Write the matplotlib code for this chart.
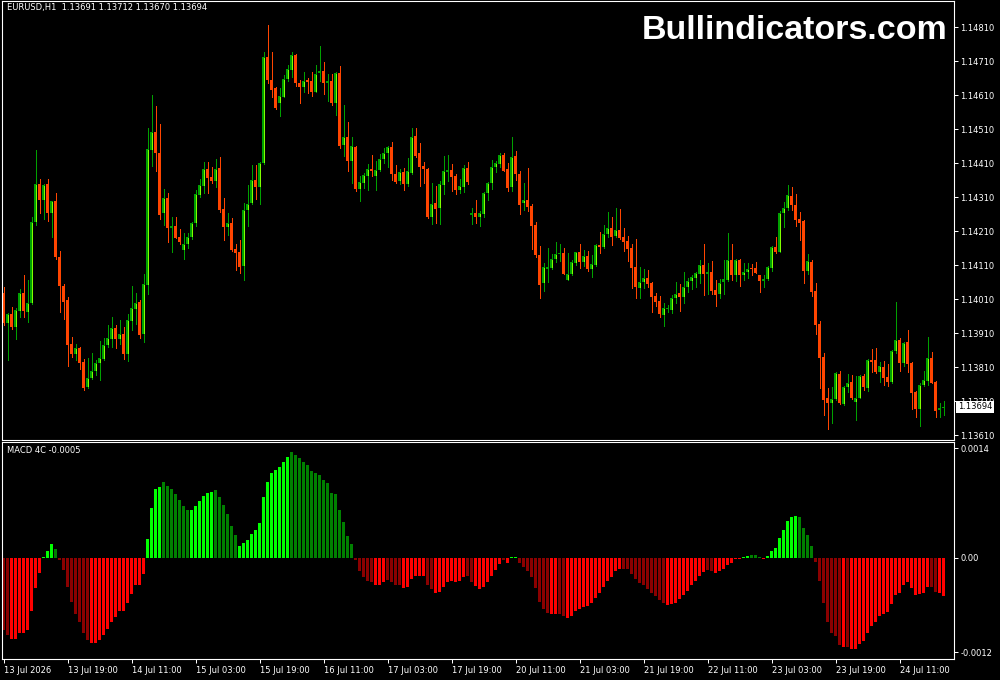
import matplotlib
matplotlib.use("Agg")
import matplotlib.pyplot as plt
import numpy as np
from matplotlib.transforms import blended_transform_factory

symbol = "EURUSD,H1"
indicator_name = "MACD 4C"
watermark = "Bullindicators.com"

opens = [
    1.14030, 1.13941, 1.13967, 1.13929, 1.13976, 1.14028, 1.13973, 1.13998, 1.14236, 1.14349,
    1.14302, 1.14349, 1.14263, 1.14299, 1.14134, 1.14050, 1.14008, 1.13878, 1.13849, 1.13867,
    1.13826, 1.13751, 1.13780, 1.13798, 1.13823, 1.13833, 1.13877, 1.13893, 1.13925, 1.13893,
    1.13908, 1.13849, 1.13947, 1.13981, 1.14002, 1.13908, 1.14052, 1.14449, 1.14503, 1.14441,
    1.14263, 1.14307, 1.14220, 1.14225, 1.14192, 1.14155, 1.14172, 1.14194, 1.14233, 1.14317,
    1.14344, 1.14392, 1.14369, 1.14358, 1.14396, 1.14277, 1.14223, 1.14235, 1.14157, 1.14149,
    1.14109, 1.14272, 1.14292, 1.14361, 1.14341, 1.14410, 1.14722, 1.14655, 1.14632, 1.14588,
    1.14606, 1.14657, 1.14684, 1.14728, 1.14647, 1.14635, 1.14655, 1.14652, 1.14620, 1.14676,
    1.14681, 1.14647, 1.14653, 1.14586, 1.14676, 1.14464, 1.14486, 1.14417, 1.14459, 1.14334,
    1.14353, 1.14373, 1.14392, 1.14373, 1.14390, 1.14422, 1.14439, 1.14459, 1.14380, 1.14359,
    1.14383, 1.14349, 1.14382, 1.14490, 1.14441, 1.14403, 1.14393, 1.14253, 1.14292, 1.14280,
    1.14346, 1.14385, 1.14390, 1.14372, 1.14331, 1.14339, 1.14397, 1.14257, 1.14263, 1.14253,
    1.14261, 1.14323, 1.14351, 1.14400, 1.14407, 1.14434, 1.14392, 1.14341, 1.14431, 1.14378,
    1.14292, 1.14302, 1.14284, 1.14228, 1.14140, 1.14057, 1.14099, 1.14101, 1.14128, 1.14142,
    1.14145, 1.14067, 1.14083, 1.14117, 1.14148, 1.14120, 1.14137, 1.14099, 1.14111, 1.14170,
    1.14163, 1.14202, 1.14219, 1.14197, 1.14214, 1.14194, 1.14182, 1.14162, 1.14106, 1.14042,
    1.14062, 1.14072, 1.14059, 1.14020, 1.14005, 1.13964, 1.13981, 1.13980, 1.14013, 1.14030,
    1.14017, 1.14045, 1.14064, 1.14073, 1.14083, 1.14111, 1.14083, 1.14089, 1.14037, 1.14025,
    1.14062, 1.14067, 1.14127, 1.14081, 1.14125, 1.14081, 1.14089, 1.14101, 1.14103, 1.14081,
    1.14065, 1.14069, 1.14103, 1.14163, 1.14150, 1.14265, 1.14280, 1.14314, 1.14287, 1.14246,
    1.14240, 1.14094, 1.14120, 1.14034, 1.13937, 1.13841, 1.13719, 1.13704, 1.13716, 1.13790,
    1.13702, 1.13753, 1.13767, 1.13709, 1.13720, 1.13785, 1.13750, 1.13831, 1.13831, 1.13797,
    1.13812, 1.13782, 1.13766, 1.13858, 1.13890, 1.13823, 1.13885, 1.13823, 1.13738, 1.13686,
    1.13758, 1.13770, 1.13836, 1.13767, 1.13684, 1.13691,
]

highs = [
    1.14047, 1.13969, 1.13988, 1.13983, 1.14039, 1.14081, 1.14067, 1.14251, 1.14449, 1.14363,
    1.14350, 1.14363, 1.14299, 1.14322, 1.14152, 1.14055, 1.14016, 1.13899, 1.13878, 1.13870,
    1.13833, 1.13836, 1.13851, 1.13831, 1.13888, 1.13895, 1.13934, 1.13959, 1.13934, 1.13949,
    1.13929, 1.13967, 1.14049, 1.14029, 1.14008, 1.14084, 1.14514, 1.14611, 1.14578, 1.14525,
    1.14334, 1.14324, 1.14253, 1.14253, 1.14217, 1.14204, 1.14204, 1.14238, 1.14331, 1.14364,
    1.14413, 1.14413, 1.14400, 1.14422, 1.14428, 1.14307, 1.14263, 1.14248, 1.14172, 1.14184,
    1.14292, 1.14346, 1.14405, 1.14405, 1.14414, 1.14736, 1.14817, 1.14736, 1.14635, 1.14630,
    1.14669, 1.14699, 1.14736, 1.14731, 1.14655, 1.14679, 1.14660, 1.14679, 1.14699, 1.14755,
    1.14709, 1.14674, 1.14674, 1.14679, 1.14696, 1.14581, 1.14532, 1.14486, 1.14461, 1.14373,
    1.14382, 1.14408, 1.14434, 1.14417, 1.14437, 1.14456, 1.14461, 1.14473, 1.14405, 1.14392,
    1.14397, 1.14426, 1.14513, 1.14513, 1.14470, 1.14414, 1.14396, 1.14353, 1.14344, 1.14359,
    1.14432, 1.14434, 1.14408, 1.14378, 1.14363, 1.14405, 1.14414, 1.14279, 1.14302, 1.14270,
    1.14326, 1.14356, 1.14419, 1.14417, 1.14439, 1.14439, 1.14410, 1.14486, 1.14446, 1.14387,
    1.14351, 1.14395, 1.14290, 1.14238, 1.14167, 1.14116, 1.14160, 1.14143, 1.14178, 1.14172,
    1.14160, 1.14145, 1.14125, 1.14150, 1.14172, 1.14155, 1.14152, 1.14140, 1.14172, 1.14208,
    1.14228, 1.14267, 1.14253, 1.14279, 1.14275, 1.14219, 1.14196, 1.14172, 1.14187, 1.14106,
    1.14098, 1.14096, 1.14062, 1.14030, 1.14020, 1.14000, 1.13993, 1.14022, 1.14060, 1.14055,
    1.14089, 1.14072, 1.14081, 1.14091, 1.14127, 1.14172, 1.14116, 1.14122, 1.14067, 1.14069,
    1.14127, 1.14206, 1.14174, 1.14130, 1.14130, 1.14116, 1.14116, 1.14114, 1.14119, 1.14081,
    1.14081, 1.14109, 1.14167, 1.14194, 1.14270, 1.14295, 1.14346, 1.14341, 1.14319, 1.14267,
    1.14243, 1.14143, 1.14125, 1.14057, 1.13947, 1.13853, 1.13748, 1.13753, 1.13795, 1.13799,
    1.13755, 1.13790, 1.13787, 1.13784, 1.13786, 1.13790, 1.13833, 1.13864, 1.13866, 1.13826,
    1.13828, 1.13819, 1.13861, 1.14002, 1.13897, 1.13885, 1.13920, 1.13826, 1.13741, 1.13763,
    1.13799, 1.13900, 1.13856, 1.13770, 1.13704, 1.13712,
]

lows = [
    1.13934, 1.13831, 1.13922, 1.13893, 1.13959, 1.13959, 1.13944, 1.13996, 1.14228, 1.14263,
    1.14246, 1.14241, 1.14194, 1.14130, 1.13973, 1.13952, 1.13814, 1.13841, 1.13831, 1.13804,
    1.13743, 1.13749, 1.13777, 1.13787, 1.13772, 1.13831, 1.13870, 1.13870, 1.13866, 1.13880,
    1.13833, 1.13828, 1.13920, 1.13937, 1.13895, 1.13884, 1.14027, 1.14402, 1.14387, 1.14246,
    1.14228, 1.14179, 1.14150, 1.14189, 1.14172, 1.14130, 1.14160, 1.14186, 1.14225, 1.14312,
    1.14322, 1.14322, 1.14351, 1.14339, 1.14267, 1.14184, 1.14199, 1.14152, 1.14096, 1.14088,
    1.14067, 1.14225, 1.14290, 1.14305, 1.14290, 1.14408, 1.14647, 1.14604, 1.14571, 1.14549,
    1.14604, 1.14652, 1.14663, 1.14638, 1.14588, 1.14620, 1.14617, 1.14608, 1.14619, 1.14653,
    1.14614, 1.14594, 1.14581, 1.14552, 1.14454, 1.14431, 1.14388, 1.14353, 1.14329, 1.14300,
    1.14336, 1.14331, 1.14373, 1.14331, 1.14388, 1.14412, 1.14400, 1.14361, 1.14353, 1.14349,
    1.14331, 1.14344, 1.14380, 1.14429, 1.14344, 1.14351, 1.14248, 1.14231, 1.14235, 1.14231,
    1.14319, 1.14359, 1.14328, 1.14319, 1.14323, 1.14326, 1.14349, 1.14231, 1.14233, 1.14225,
    1.14251, 1.14302, 1.14333, 1.14385, 1.14400, 1.14388, 1.14328, 1.14328, 1.14361, 1.14261,
    1.14272, 1.14270, 1.14158, 1.14135, 1.14015, 1.14035, 1.14062, 1.14099, 1.14119, 1.14123,
    1.14084, 1.14067, 1.14081, 1.14111, 1.14103, 1.14108, 1.14094, 1.14076, 1.14109, 1.14147,
    1.14160, 1.14194, 1.14170, 1.14192, 1.14186, 1.14152, 1.14123, 1.14044, 1.14015, 1.14015,
    1.14042, 1.14047, 1.13973, 1.13990, 1.13959, 1.13932, 1.13973, 1.13969, 1.14000, 1.13976,
    1.14000, 1.14032, 1.14039, 1.14047, 1.14059, 1.14022, 1.14025, 1.14027, 1.13990, 1.14015,
    1.14025, 1.14064, 1.14067, 1.14065, 1.14049, 1.14067, 1.14072, 1.14081, 1.14086, 1.14032,
    1.14047, 1.14067, 1.14094, 1.14147, 1.14150, 1.14222, 1.14272, 1.14272, 1.14225, 1.14184,
    1.14057, 1.14084, 1.14020, 1.13908, 1.13748, 1.13670, 1.13630, 1.13645, 1.13714, 1.13702,
    1.13699, 1.13738, 1.13717, 1.13655, 1.13719, 1.13743, 1.13741, 1.13797, 1.13794, 1.13767,
    1.13758, 1.13755, 1.13763, 1.13851, 1.13799, 1.13814, 1.13797, 1.13686, 1.13663, 1.13637,
    1.13755, 1.13758, 1.13763, 1.13665, 1.13663, 1.13670,
]

closes = [
    1.13939, 1.13967, 1.13929, 1.13978, 1.14028, 1.13976, 1.13998, 1.14236, 1.14349, 1.14302,
    1.14345, 1.14264, 1.14299, 1.14133, 1.14050, 1.14002, 1.13875, 1.13849, 1.13867, 1.13823,
    1.13749, 1.13780, 1.13798, 1.13822, 1.13837, 1.13877, 1.13895, 1.13925, 1.13893, 1.13908,
    1.13849, 1.13949, 1.13984, 1.13999, 1.13905, 1.14055, 1.14452, 1.14503, 1.14441, 1.14258,
    1.14307, 1.14220, 1.14225, 1.14191, 1.14179, 1.14172, 1.14192, 1.14235, 1.14319, 1.14346,
    1.14392, 1.14367, 1.14358, 1.14392, 1.14274, 1.14223, 1.14233, 1.14155, 1.14147, 1.14106,
    1.14274, 1.14289, 1.14361, 1.14341, 1.14410, 1.14722, 1.14655, 1.14625, 1.14574, 1.14608,
    1.14657, 1.14686, 1.14728, 1.14647, 1.14635, 1.14653, 1.14650, 1.14620, 1.14674, 1.14681,
    1.14647, 1.14653, 1.14586, 1.14676, 1.14461, 1.14486, 1.14417, 1.14461, 1.14334, 1.14354,
    1.14375, 1.14392, 1.14387, 1.14390, 1.14422, 1.14439, 1.14457, 1.14378, 1.14356, 1.14383,
    1.14349, 1.14387, 1.14488, 1.14432, 1.14398, 1.14393, 1.14253, 1.14290, 1.14277, 1.14349,
    1.14387, 1.14390, 1.14370, 1.14331, 1.14343, 1.14395, 1.14354, 1.14263, 1.14253, 1.14263,
    1.14324, 1.14353, 1.14400, 1.14410, 1.14434, 1.14388, 1.14338, 1.14429, 1.14378, 1.14287,
    1.14302, 1.14282, 1.14225, 1.14140, 1.14052, 1.14104, 1.14104, 1.14130, 1.14143, 1.14145,
    1.14084, 1.14084, 1.14120, 1.14148, 1.14119, 1.14137, 1.14099, 1.14114, 1.14170, 1.14163,
    1.14202, 1.14219, 1.14194, 1.14214, 1.14189, 1.14179, 1.14158, 1.14103, 1.14047, 1.14062,
    1.14072, 1.14055, 1.14017, 1.14003, 1.13967, 1.13983, 1.13982, 1.14013, 1.14027, 1.14017,
    1.14045, 1.14064, 1.14075, 1.14086, 1.14111, 1.14083, 1.14089, 1.14035, 1.14024, 1.14057,
    1.14069, 1.14125, 1.14081, 1.14127, 1.14081, 1.14089, 1.14099, 1.14098, 1.14088, 1.14065,
    1.14070, 1.14106, 1.14165, 1.14150, 1.14265, 1.14280, 1.14317, 1.14287, 1.14243, 1.14235,
    1.14094, 1.14122, 1.14032, 1.13934, 1.13838, 1.13714, 1.13704, 1.13717, 1.13792, 1.13704,
    1.13753, 1.13763, 1.13720, 1.13719, 1.13784, 1.13753, 1.13831, 1.13825, 1.13797, 1.13814,
    1.13780, 1.13766, 1.13858, 1.13890, 1.13823, 1.13882, 1.13819, 1.13735, 1.13686, 1.13758,
    1.13772, 1.13836, 1.13765, 1.13682, 1.13691, 1.13694,
]

macd = [
    -0.00092, -0.00098, -0.00103, -0.00103, -0.00096, -0.00095, -0.00092, -0.00068, -0.00038, -0.00019,
    0.00001, 0.00009, 0.00018, 0.00011, -0.00002, -0.00015, -0.00037, -0.00056, -0.00071, -0.00081,
    -0.00095, -0.00105, -0.00108, -0.00108, -0.00105, -0.00098, -0.00091, -0.00081, -0.00075, -0.00068,
    -0.00067, -0.00058, -0.00046, -0.00035, -0.00034, -0.00020, 0.00024, 0.00064, 0.00088, 0.00091,
    0.00097, 0.00092, 0.00088, 0.00082, 0.00074, 0.00066, 0.00061, 0.00061, 0.00066, 0.00073,
    0.00079, 0.00083, 0.00084, 0.00087, 0.00078, 0.00067, 0.00056, 0.00041, 0.00029, 0.00015,
    0.00019, 0.00023, 0.00031, 0.00036, 0.00045, 0.00078, 0.00097, 0.00108, 0.00112, 0.00116,
    0.00122, 0.00129, 0.00135, 0.00131, 0.00127, 0.00123, 0.00119, 0.00111, 0.00109, 0.00106,
    0.00100, 0.00095, 0.00083, 0.00082, 0.00061, 0.00046, 0.00028, 0.00018, -0.00003, -0.00016,
    -0.00024, -0.00029, -0.00031, -0.00035, -0.00034, -0.00031, -0.00028, -0.00030, -0.00035, -0.00035,
    -0.00038, -0.00037, -0.00027, -0.00023, -0.00023, -0.00023, -0.00034, -0.00040, -0.00045, -0.00043,
    -0.00037, -0.00031, -0.00029, -0.00030, -0.00029, -0.00024, -0.00023, -0.00030, -0.00036, -0.00039,
    -0.00037, -0.00031, -0.00023, -0.00015, -0.00008, -0.00003, -0.00006, 0.00001, 0.00001, -0.00006,
    -0.00012, -0.00017, -0.00024, -0.00038, -0.00056, -0.00065, -0.00070, -0.00072, -0.00072, -0.00072,
    -0.00074, -0.00076, -0.00074, -0.00068, -0.00065, -0.00062, -0.00061, -0.00058, -0.00051, -0.00045,
    -0.00037, -0.00029, -0.00024, -0.00017, -0.00014, -0.00014, -0.00014, -0.00020, -0.00027, -0.00032,
    -0.00035, -0.00040, -0.00045, -0.00048, -0.00054, -0.00058, -0.00060, -0.00059, -0.00057, -0.00052,
    -0.00047, -0.00042, -0.00035, -0.00029, -0.00023, -0.00018, -0.00015, -0.00017, -0.00019, -0.00017,
    -0.00014, -0.00009, -0.00007, -0.00001, -0.00001, 0.00001, 0.00003, 0.00004, 0.00004, 0.00001,
    -0.00001, 0.00003, 0.00009, 0.00013, 0.00026, 0.00036, 0.00047, 0.00052, 0.00054, 0.00052,
    0.00038, 0.00029, 0.00015, -0.00005, -0.00029, -0.00057, -0.00081, -0.00095, -0.00100, -0.00111,
    -0.00114, -0.00113, -0.00116, -0.00116, -0.00110, -0.00106, -0.00095, -0.00087, -0.00081, -0.00074,
    -0.00071, -0.00069, -0.00059, -0.00047, -0.00044, -0.00035, -0.00031, -0.00038, -0.00047, -0.00046,
    -0.00044, -0.00037, -0.00037, -0.00043, -0.00045, -0.00048,
]

# 4-colour state per histogram bar: G up/positive, g down/positive, R red, r dark red
macd_state = (
    "rrRRRRRRRR" "GGGgrrrrrr" "rrRRRRRRRR" "RRRRRRGGGG" "gggggggGGG"
    "GGGggggggG" "GGGGGGGGGG" "GGgggggggg" "ggggggggrr" "rrrRRRrrrr"
    "RRRRRRrrRR" "RRRRRRrrRR" "RRRRRrRGGr" "rrrrrrrRRr" "rRRRRRRRRR"
    "RRRRRrrrrr" "rrrrrrRRRR" "RRRRRRrrRR" "RRRRRGGggg" "RGGGGGGGGg"
    "gggrrrrrrr" "RrRRRRRRRR" "RRRRRRRRRR" "RRrrRR"
)

time_labels = [
    "13 Jul 2026", "13 Jul 19:00", "14 Jul 11:00", "15 Jul 03:00", "15 Jul 19:00",
    "16 Jul 11:00", "17 Jul 03:00", "17 Jul 19:00", "20 Jul 11:00", "21 Jul 03:00",
    "21 Jul 19:00", "22 Jul 11:00", "23 Jul 03:00", "23 Jul 19:00", "24 Jul 11:00",
]
time_label_bars = [0, 16, 32, 48, 64, 80, 96, 112, 128, 144, 160, 176, 192, 208, 224]

price_ticks = [1.13610, 1.13710, 1.13810, 1.13910, 1.14010, 1.14110, 1.14210,
               1.14310, 1.14410, 1.14510, 1.14610, 1.14710, 1.14810]
macd_ticks = [-0.0012, 0.0, 0.0014]
macd_tick_labels = ["-0.0012", "0.00", "0.0014"]

# ---------------------------------------------------------------- styling
BULL_EDGE = "#00a000"
BULL_FILL = "#80ff00"
BEAR = "#ff4500"
MACD_COLORS = {"G": "#00ff00", "g": "#008000", "R": "#ff0000", "r": "#8b0000"}
FS = 6.0
PX = 0.72  # one pixel in points at 100 dpi

W, H = 1000, 680
fig = plt.figure(figsize=(W / 100, H / 100), dpi=100, facecolor="black")


def rect(x0, y0, x1, y1):
    return [x0 / W, 1 - y1 / H, (x1 - x0) / W, (y1 - y0) / H]


ax = fig.add_axes(rect(2.2, 0.5, 954.3, 439.7))
ax2 = fig.add_axes(rect(2.2, 441.7, 954.3, 659.0))

n = len(closes)
x = np.arange(n)
o = np.array(opens)
h = np.array(highs)
l = np.array(lows)
c = np.array(closes)
up = c >= o

xl = (-0.41, 237.62)
ax.set_xlim(*xl)
ax.set_ylim(1.135971, 1.148888)
ax2.set_xlim(*xl)
ax2.set_ylim(-0.0012878, 0.0014828)

px_price = (1.148888 - 1.135971) / 439.2

# wicks
ax.vlines(x[up], l[up], h[up], colors=BULL_EDGE, linewidth=PX, antialiased=False)
ax.vlines(x[~up], l[~up], h[~up], colors=BEAR, linewidth=PX, antialiased=False)
# bodies
body_lo = np.minimum(o, c)
body_h = np.maximum(np.abs(c - o), px_price)
ax.bar(x[up], body_h[up], bottom=body_lo[up], width=0.75, color=BULL_EDGE,
       linewidth=0, antialiased=False)
ax.bar(x[~up], body_h[~up], bottom=body_lo[~up], width=0.75, color=BEAR,
       linewidth=0, antialiased=False)
big = up & (np.abs(c - o) > 2.5 * px_price)
ax.vlines(x[big], o[big] + px_price, c[big] - px_price, colors=BULL_FILL,
          linewidth=PX, antialiased=False)

# MACD histogram
ax2.bar(x, macd, width=0.75, color=[MACD_COLORS[s] for s in macd_state],
        linewidth=0, antialiased=False)

for a in (ax, ax2):
    a.set_facecolor("black")
    for sp in a.spines.values():
        sp.set_color("white")
        sp.set_linewidth(PX * 1.1)
    a.yaxis.tick_right()
    a.tick_params(axis="both", colors="white", labelcolor="white", length=3,
                  width=PX, labelsize=FS, pad=1.5, direction="out")

ax.set_yticks(price_ticks)
ax.set_yticklabels([f"{v:.5f}" for v in price_ticks])
ax.set_xticks([])

ax2.set_yticks(macd_ticks)
ax2.set_yticklabels(macd_tick_labels)
ax2.set_xticks(time_label_bars)
ax2.set_xticklabels(time_labels, ha="left")
ax2.tick_params(axis="x", pad=2)

# current price box
tr = blended_transform_factory(ax.transAxes, ax.transData)
ax.text(1.004, closes[-1], f"{closes[-1]:.5f}", transform=tr, color="black",
        fontsize=FS, va="center", ha="left", clip_on=False, zorder=10,
        bbox=dict(facecolor="white", edgecolor="none", pad=1.2))

# header texts
fig.text(7 / W, 1 - 7.5 / H,
         f"{symbol}  {opens[-1]:.5f} {highs[-1]:.5f} {lows[-1]:.5f} {closes[-1]:.5f}",
         color="white", fontsize=FS, va="center", ha="left")
fig.text(7 / W, 1 - 450.5 / H, f"{indicator_name} {macd[-1]:.4f}",
         color="white", fontsize=FS, va="center", ha="left")
fig.text(948 / W, 1 - 39 / H, watermark, color="white", fontsize=24.5,
         fontfamily="Liberation Sans", fontweight="bold", ha="right", va="baseline")

fig.savefig("out.png", dpi=100, facecolor="black")
